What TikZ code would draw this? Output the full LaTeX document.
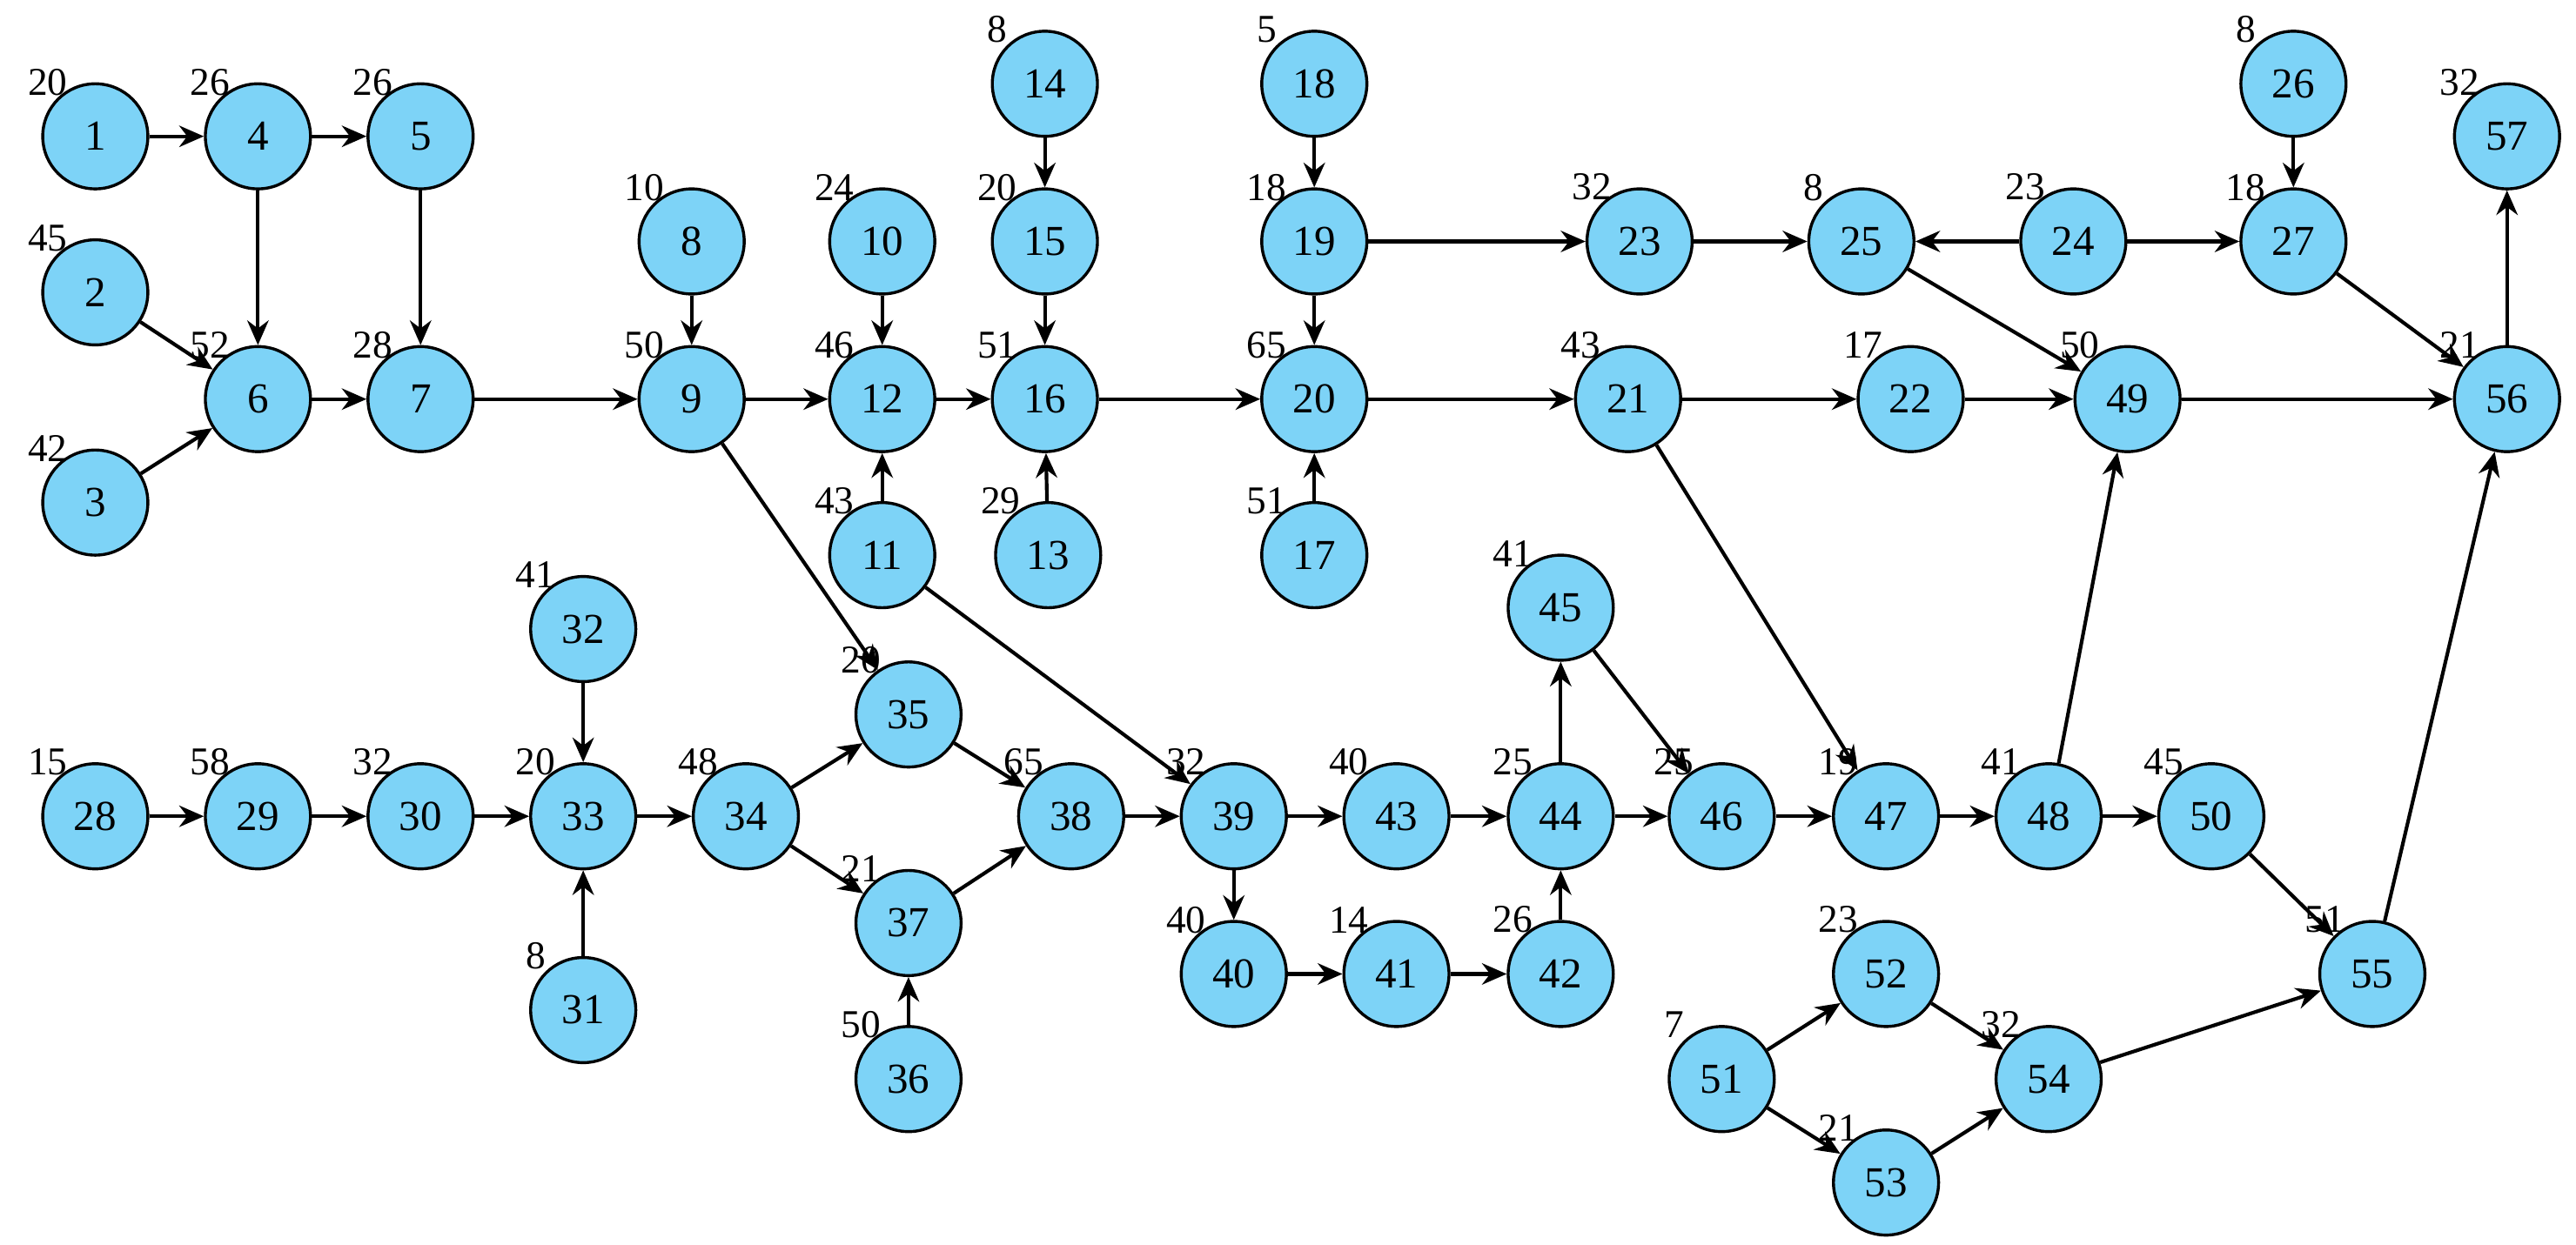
\documentclass[tikz,border=0pt]{standalone}
\usepackage{fontspec}
\setmainfont{Liberation Serif}
\usetikzlibrary{arrows.meta}
\begin{document}
\begin{tikzpicture}[x=1pt,y=-1pt,
  n/.style={circle,draw=black,line width=1.8pt,fill={rgb,255:red,125;green,211;blue,247},minimum size=64pt,inner sep=0pt,font=\fontsize{26}{30}\selectfont},
  e/.style={-{Stealth[length=15pt,width=13pt]},line width=2.2pt},
  lf/.style={font=\fontsize{24}{28}\selectfont,inner sep=0pt}]
\useasboundingbox (0,0) rectangle (1568,758);
\def\N#1#2#3#4{\node[n] (n#1) at (#2,#3) {#1}; \node[lf] at (#2-29,#3-33) {#4};}
\N{1}{58}{83}{20}
\N{4}{157}{83}{26}
\N{5}{256}{83}{26}
\N{2}{58}{178}{45}
\N{6}{157}{243}{52}
\N{7}{256}{243}{28}
\N{3}{58}{306}{42}
\N{8}{421}{147}{10}
\N{9}{421}{243}{50}
\N{10}{537}{147}{24}
\N{12}{537}{243}{46}
\N{11}{537}{338}{43}
\N{14}{636}{51}{8}
\N{15}{636}{147}{20}
\N{16}{636}{243}{51}
\N{13}{638}{338}{29}
\N{18}{800}{51}{5}
\N{19}{800}{147}{18}
\N{20}{800}{243}{65}
\N{17}{800}{338}{51}
\N{23}{998}{147}{32}
\N{25}{1133}{147}{8}
\N{24}{1262}{147}{23}
\N{26}{1396}{51}{8}
\N{27}{1396}{147}{18}
\N{57}{1526}{83}{32}
\N{21}{991}{243}{43}
\N{22}{1163}{243}{17}
\N{49}{1295}{243}{50}
\N{56}{1526}{243}{21}
\N{32}{355}{383}{41}
\N{45}{950}{370}{41}
\N{35}{553}{435}{20}
\N{28}{58}{497}{15}
\N{29}{157}{497}{58}
\N{30}{256}{497}{32}
\N{33}{355}{497}{20}
\N{34}{454}{497}{48}
\N{38}{652}{497}{65}
\N{39}{751}{497}{32}
\N{43}{850}{497}{40}
\N{44}{950}{497}{25}
\N{46}{1048}{497}{25}
\N{47}{1148}{497}{19}
\N{48}{1247}{497}{41}
\N{50}{1346}{497}{45}
\N{37}{553}{562}{21}
\N{40}{751}{593}{40}
\N{41}{850}{593}{14}
\N{42}{950}{593}{26}
\N{52}{1148}{593}{23}
\N{55}{1444}{593}{51}
\N{31}{355}{615}{8}
\N{36}{553}{657}{50}
\N{51}{1048}{657}{7}
\N{54}{1247}{657}{32}
\N{53}{1148}{720}{21}
\foreach \a/\b in {1/4,4/5,4/6,5/7,2/6,3/6,6/7,7/9,8/9,9/12,10/12,11/12,12/16,15/16,14/15,13/16,16/20,18/19,19/20,17/20,19/23,23/25,24/25,24/27,26/27,25/49,27/56,56/57,20/21,21/22,22/49,49/56,21/47,9/35,11/39,32/33,28/29,29/30,30/33,31/33,33/34,34/35,34/37,35/38,37/38,36/37,38/39,39/43,39/40,40/41,41/42,42/44,43/44,44/45,45/46,44/46,46/47,47/48,48/49,48/50,50/55,55/56,51/52,51/53,52/54,53/54,54/55}
  \draw[e] (n\a) -- (n\b);
\end{tikzpicture}
\end{document}
